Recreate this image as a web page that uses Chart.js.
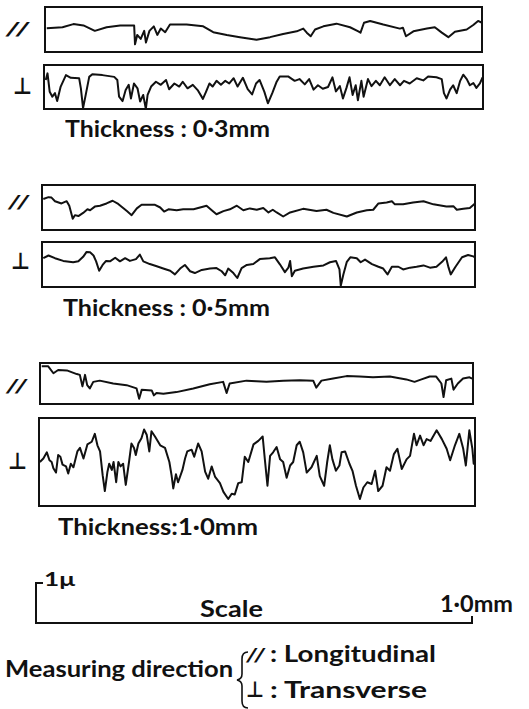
<!DOCTYPE html>
<html>
<head>
<meta charset="utf-8">
<script src="https://cdn.jsdelivr.net/npm/chart.js@4.4.1/dist/chart.umd.min.js"></script>
<style>
  body { margin: 0; background: #fff; width: 529px; height: 709px; position: relative; overflow: hidden; }
  .panel { position: absolute; }
  .lbl { position: absolute; white-space: nowrap; line-height: 1; color: #111;
         font-family: Lato, "Liberation Sans", sans-serif; font-weight: bold; transform-origin: 0 0; }
  .sym { font-family: "DejaVu Sans", sans-serif; font-weight: bold; }
  .obl { font-style: italic; }
  svg { position: absolute; left: 0; top: 0; }
</style>
</head>
<body>
<script>
// surface profiles: [position along scan (% of 1.0mm), relative height (% of frame)]
// thickness 0.3mm
const long03 = [[0.4,53],[4,55],[6.5,62],[8.8,59],[11.4,47],[14.1,55],[17.2,59],[20.4,59],[20.6,17],[21.1,38],[21.9,29],[22.7,47],[23.1,21],[23.9,47],[24.9,57],[25.7,38],[26.5,52],[27.5,44],[28.6,61],[32.4,61],[36.2,57],[38.5,44],[41.6,38],[44.6,33],[48.4,27],[51.5,33],[54.5,40],[57.6,46],[59.1,52],[59.9,43],[60.8,35],[61.8,50],[63.7,57],[66.7,63],[69.8,55],[71.7,46],[72.2,43],[73.0,65],[74.4,69],[77.4,61],[81.2,52],[81.9,54],[82.6,35],[84.3,46],[87.4,52],[89.2,55],[90.8,43],[92.3,33],[93.8,45],[96.5,50],[98.0,60],[99.1,69],[100,65]];
const perp03 = [[0.4,66],[0.8,81],[1.3,39],[1.9,28],[2.5,36],[3.0,18],[3.8,51],[5.0,77],[6.1,71],[8.0,70],[8.4,47],[8.9,2],[9.5,32],[10.3,73],[11.0,79],[13.3,77],[16.0,73],[16.7,66],[17.1,28],[17.9,18],[18.6,43],[19.3,55],[19.8,24],[20.5,58],[21.3,47],[21.9,17],[22.6,32],[23.2,0],[23.6,32],[24.4,51],[25.5,62],[26.6,55],[27.8,66],[28.5,45],[29.7,58],[30.8,51],[31.6,62],[32.7,47],[33.9,55],[35.0,43],[36.2,23],[36.9,39],[37.7,58],[38.4,51],[39.3,64],[40.3,55],[41.3,64],[42.2,58],[43.2,70],[44.1,51],[45.3,71],[46.4,45],[47.4,33],[48.3,58],[49.1,66],[50.2,39],[51.0,13],[52.0,36],[53.0,62],[53.7,74],[55.6,74],[57.1,64],[58.2,68],[59.4,56],[60.4,68],[61.4,44],[62.4,54],[63.5,46],[64.7,50],[65.7,72],[66.5,40],[67.4,52],[68.1,24],[68.9,48],[69.6,72],[70.3,32],[71.0,54],[71.5,20],[72.3,64],[72.8,28],[73.8,68],[74.6,52],[75.6,64],[76.5,54],[77.6,72],[78.8,54],[79.9,68],[81.1,54],[82.0,64],[83.3,58],[84.9,70],[86.4,65],[87.5,74],[89.4,72],[90.6,68],[91.1,36],[91.7,24],[92.5,44],[93.2,54],[94.0,36],[94.8,64],[95.5,78],[96.3,68],[97.0,54],[97.8,59],[98.5,48],[99.3,58],[99.9,72]];
// thickness 0.5mm
const long05 = [[0.3,69],[1.5,73],[2.2,72],[3.0,64],[4.5,59],[5.7,64],[6.3,54],[7.1,25],[7.6,33],[8.4,31],[9.5,38],[10.5,46],[11.1,44],[12.2,52],[13.4,54],[14.9,59],[16.3,65],[17.6,58],[19.6,42],[20.7,33],[21.9,48],[23.0,56],[26.1,56],[27.3,50],[28.2,41],[29.2,46],[31.1,44],[32.6,46],[35.0,46],[36.5,50],[38.0,54],[39.2,44],[40.3,35],[41.9,42],[43.4,46],[45.0,54],[46.5,44],[48.0,48],[49.6,45],[51.1,49],[52.3,39],[53.3,45],[54.2,39],[55.7,30],[57.3,39],[60.3,47],[63.4,42],[65.7,45],[67.3,38],[70.4,30],[72.7,39],[75.0,44],[76.5,45],[77.7,59],[79.6,61],[80.8,64],[81.5,57],[83.4,57],[85.7,61],[88.1,64],[90.4,57],[93.4,52],[95.0,53],[95.8,45],[97.3,47],[98.8,49],[100,59]];
const perp05 = [[0.3,64],[1.5,70],[3.0,64],[4.9,58],[7.2,55],[8.4,57],[9.5,67],[10.3,78],[11.1,77],[11.9,70],[12.5,57],[13.2,36],[14.0,49],[14.8,58],[15.7,57],[16.9,65],[18.0,57],[19.2,64],[20.3,58],[21.7,62],[22.6,72],[23.4,57],[24.9,51],[26.5,46],[28.0,41],[29.6,36],[30.7,28],[31.9,41],[33.0,49],[34.2,35],[35.3,31],[36.9,38],[38.8,41],[40.3,42],[41.5,35],[42.3,26],[43.0,41],[44.2,31],[45.1,20],[46.1,42],[47.3,49],[48.8,51],[50.3,62],[52.6,64],[53.8,66],[54.9,51],[56.1,33],[56.9,43],[57.3,58],[57.7,24],[58.4,36],[60.3,41],[62.7,45],[65.0,48],[66.5,55],[67.9,58],[68.7,39],[69.0,3],[69.6,28],[70.4,56],[71.2,66],[72.7,64],[73.6,55],[74.6,61],[76.2,51],[77.7,45],[78.8,41],[79.8,28],[80.8,45],[82.3,45],[83.4,39],[85.0,43],[86.5,45],[88.1,48],[89.6,43],[91.1,45],[92.4,56],[93.3,66],[93.9,43],[94.4,28],[95.5,45],[97.0,66],[98.4,71],[99.6,68],[100,66]];
// thickness 1.0mm
const long10 = [[0.4,92],[1.9,92],[3.1,75],[4.2,83],[6.2,82],[8.5,73],[9.2,71],[9.8,43],[10.4,71],[10.9,46],[11.5,38],[12.3,54],[13.8,57],[16.9,50],[20.0,46],[22.3,38],[22.9,13],[23.5,35],[25.8,33],[26.3,21],[26.9,27],[28.5,25],[31.5,29],[35.4,38],[39.2,48],[42.3,54],[43.1,27],[43.8,50],[47.7,57],[52.3,54],[56.2,57],[60.0,58],[63.1,57],[63.8,40],[65.0,57],[67.7,62],[70.8,68],[73.8,67],[76.9,65],[80.8,67],[84.6,60],[86.5,54],[88.1,60],[90.0,67],[91.5,67],[92.7,50],[93.2,17],[93.8,58],[95.0,62],[95.5,35],[96.5,50],[97.7,62],[99.2,65],[99.8,62]];
const perp10 = [[0.2,50],[1.0,54],[1.8,61],[2.4,52],[2.9,50],[3.3,43],[3.9,38],[4.4,58],[4.9,56],[5.4,47],[6.2,45],[6.7,37],[7.3,48],[7.9,44],[8.8,62],[9.4,66],[10.2,54],[11.1,70],[12.1,73],[12.8,82],[13.4,69],[14.0,62],[14.6,35],[15.1,17],[15.7,39],[16.1,48],[16.7,41],[17.1,50],[17.7,27],[18.2,50],[18.7,45],[19.3,48],[19.9,24],[20.7,52],[21.2,71],[21.8,66],[22.2,58],[22.8,71],[23.5,77],[24.1,87],[24.7,81],[25.3,62],[25.8,85],[26.6,79],[27.8,69],[28.9,66],[29.9,50],[30.4,35],[30.8,20],[31.4,36],[31.9,27],[32.9,41],[33.5,54],[34.0,62],[35.0,64],[35.6,56],[36.5,71],[37.3,62],[38.1,39],[38.8,31],[39.6,45],[40.4,33],[41.5,26],[42.3,16],[43.4,8],[44.2,14],[44.9,13],[45.7,26],[46.5,27],[47.2,56],[48.0,50],[49.2,70],[50.3,74],[51.3,79],[51.8,53],[52.4,23],[53.0,57],[53.7,61],[54.5,67],[55.3,53],[56.0,50],[56.8,32],[57.6,46],[58.3,50],[59.1,69],[59.8,73],[60.6,61],[61.4,38],[62.5,44],[63.7,57],[64.4,34],[65.4,23],[66.1,50],[66.7,69],[67.3,53],[68.1,40],[68.9,46],[69.4,61],[70.2,62],[71.2,48],[71.9,40],[72.7,23],[73.6,8],[74.4,21],[75.3,27],[76.3,25],[77.1,40],[77.8,17],[78.8,23],[79.7,44],[80.5,40],[81.4,59],[82.2,65],[83.2,42],[84.3,53],[85.1,57],[86.0,82],[86.6,69],[87.4,80],[88.2,69],[88.9,76],[89.8,74],[91.2,86],[92.4,76],[93.5,65],[94.3,52],[95.4,69],[96.4,82],[97.3,65],[97.9,46],[98.7,86],[99.4,65],[99.7,48],[100,58]];

// where each profile frame sits on the page (px)
const panels = [
  { data: long03, left: 45, top: 7,   w: 437, h: 45 },
  { data: perp03, left: 44, top: 65,  w: 439, h: 44 },
  { data: long05, left: 42, top: 185, w: 433, h: 45 },
  { data: perp05, left: 42, top: 242, w: 433, h: 45 },
  { data: long10, left: 40, top: 363, w: 433, h: 41 },
  { data: perp10, left: 39, top: 418, w: 436, h: 88 },
];

// text labels: baseline y, font size, target width
const labels = [
  { html: '//', cls: 'sym obl', x: 8,  base: 35,  size: 18, w: 20 },
  { html: '⊥',  cls: 'sym',     x: 13, base: 95,  size: 23, w: 19 },
  { html: 'Thickness : 0·3mm', x: 65, base: 137, size: 22, w: 205 },
  { html: '//', cls: 'sym obl', x: 10, base: 208, size: 18, w: 18 },
  { html: '⊥',  cls: 'sym',     x: 11, base: 270, size: 23, w: 19 },
  { html: 'Thickness : 0·5mm', x: 63, base: 316, size: 22, w: 207 },
  { html: '//', cls: 'sym obl', x: 8,  base: 392, size: 18, w: 18 },
  { html: '⊥',  cls: 'sym',     x: 8,  base: 470, size: 23, w: 19 },
  { html: 'Thickness:1·0mm', x: 58, base: 535, size: 23, w: 200 },
  { html: '1μ', x: 44, base: 585, size: 18, w: 31 },
  { html: 'Scale', x: 200, base: 617, size: 22, w: 63 },
  { html: '1·0mm', x: 440, base: 612, size: 22, w: 73 },
  { html: 'Measuring direction', x: 5, base: 677, size: 22, w: 228 },
  { html: '//', cls: 'sym obl', x: 248, base: 662, size: 17, w: 16 },
  { html: ': Longitudinal', x: 270, base: 662, size: 22, w: 166 },
  { html: '⊥',  cls: 'sym',     x: 246, base: 698, size: 22, w: 18 },
  { html: ': Transverse', x: 270, base: 698, size: 22, w: 157 },
];

// 枠線（チャートエリアの四辺）
const framePlugin = {
  id: 'frame',
  afterDraw(chart) {
    const { ctx, chartArea: a } = chart;
    ctx.save();
    ctx.strokeStyle = '#111';
    ctx.lineWidth = 2;
    ctx.strokeRect(a.left, a.top, a.right - a.left, a.bottom - a.top);
    ctx.restore();
  }
};

panels.forEach((p) => {
  const div = document.createElement('div');
  div.className = 'panel';
  div.style.left = (p.left - 1) + 'px';
  div.style.top = (p.top - 1) + 'px';
  div.style.width = (p.w + 2) + 'px';
  div.style.height = (p.h + 2) + 'px';
  const canvas = document.createElement('canvas');
  div.appendChild(canvas);
  document.body.appendChild(div);

  new Chart(canvas, {
    type: 'line',
    data: {
      datasets: [{
        data: p.data.map(([x, y]) => ({ x, y })),
        borderColor: '#111',
        borderWidth: 2,
        borderJoinStyle: 'round',
        pointRadius: 0,
        tension: 0,
        clip: 2,
      }]
    },
    options: {
      responsive: true,
      maintainAspectRatio: false,
      animation: false,
      events: [],
      layout: { padding: 1 },
      plugins: { legend: { display: false }, tooltip: { enabled: false } },
      scales: {
        x: { type: 'linear', min: 0, max: 100, display: false },
        y: { min: 0, max: 100, display: false },
      },
    },
    plugins: [framePlugin],
  });
});

// labels as html text, squeezed to the widths of the original lettering
labels.forEach((l) => {
  const el = document.createElement('div');
  el.className = 'lbl' + (l.cls ? ' ' + l.cls : '');
  el.innerHTML = l.html;
  el.style.fontSize = l.size + 'px';
  el.style.left = l.x + 'px';
  el.style.top = (l.base - 0.86 * l.size) + 'px';
  document.body.appendChild(el);
  const w = el.getBoundingClientRect().width;
  el.style.transform = 'scaleX(' + (l.w / w).toFixed(3) + ')';
});

// scale bar and brace
document.body.insertAdjacentHTML('beforeend',
  '<svg width="529" height="709">' +
  '<path d="M43 583 H36 V623 H472 V616" fill="none" stroke="#111" stroke-width="2"/>' +
  '<path d="M248 652 Q242 652 242 659 V674 Q242 679 237 680 Q242 681 242 686 V701 Q242 708 248 708" fill="none" stroke="#111" stroke-width="1.6"/>' +
  '</svg>');
</script>
</body>
</html>
